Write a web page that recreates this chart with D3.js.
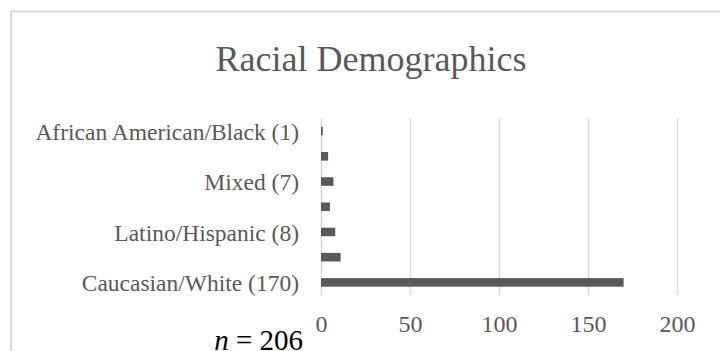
<!DOCTYPE html>
<html>
<head>
<meta charset="utf-8">
<script src="https://cdn.jsdelivr.net/npm/d3@7"></script>
<style>
  html, body { margin: 0; padding: 0; background: #fff; }
  svg { display: block; }
</style>
</head>
<body>
<svg id="chart" width="720" height="351"></svg>
<script>
// Category axis labels, listed top to bottom; blank entries are categories whose labels are skipped
const categories = ["African American/Black (1)", "", "Mixed (7)", "", "Latino/Hispanic (8)", "", "Caucasian/White (170)"];
// Respondent counts, same order as categories
const counts = [1, 4, 7, 5, 8, 11, 170];
// Value axis ticks
const xTicks = [0, 50, 100, 150, 200];

const svg = d3.select("#chart");
const serif = "'Liberation Serif', 'Times New Roman', serif";
const grey = "#595959";

// Chart area border
svg.append("rect")
  .attr("x", 11).attr("y", 11.5)
  .attr("width", 760).attr("height", 400)
  .attr("fill", "#fff")
  .attr("stroke", "#d9d9d9").attr("stroke-width", 2);

// Title
svg.append("text")
  .attr("x", 371).attr("y", 71)
  .attr("text-anchor", "middle")
  .attr("font-family", serif).attr("font-size", 36)
  .attr("fill", grey)
  .text("Racial Demographics");

const x = d3.scaleLinear().domain([0, 200]).range([321, 677]);
const y = d3.scaleBand()
  .domain(d3.range(categories.length))
  .range([118.5, 295])
  .paddingInner(0.66)
  .paddingOuter(0.33);

// Vertical gridlines
const xAxis = d3.axisBottom(x).tickValues(xTicks).tickSize(-(295 - 118.5)).tickPadding(10);
const gx = svg.append("g").attr("transform", "translate(0,295)").call(xAxis);
gx.select(".domain").remove();
gx.selectAll(".tick line").attr("stroke", "#d9d9d9").attr("stroke-width", 1.5);
gx.selectAll(".tick text")
  .attr("font-family", serif).attr("font-size", 24)
  .attr("fill", grey)
  .attr("dy", 0)
  .attr("y", 37);

// Category labels
const yAxis = d3.axisLeft(y).tickSize(0).tickPadding(0).tickFormat(i => categories[i]);
const gy = svg.append("g").attr("transform", "translate(299,0)").call(yAxis);
gy.select(".domain").remove();
gy.selectAll(".tick text")
  .attr("font-family", serif).attr("font-size", 23.5)
  .attr("fill", grey)
  .attr("dy", "0.38em");

// Bars
svg.append("g").selectAll("rect")
  .data(counts)
  .join("rect")
  .attr("x", x(0))
  .attr("y", (d, i) => y(i))
  .attr("width", d => x(d) - x(0))
  .attr("height", y.bandwidth())
  .attr("fill", grey);

// Sample size note
const note = svg.append("text")
  .attr("x", 303).attr("y", 350)
  .attr("text-anchor", "end")
  .attr("font-family", serif).attr("font-size", 29)
  .attr("fill", "#000");
note.append("tspan").attr("font-style", "italic").text("n");
note.append("tspan").text(" = 206");
</script>
</body>
</html>
